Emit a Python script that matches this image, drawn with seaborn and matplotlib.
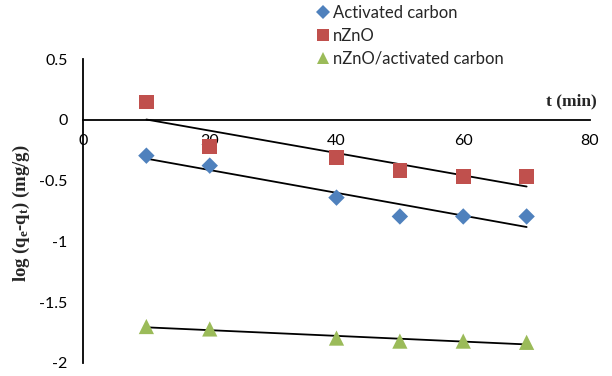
import matplotlib
matplotlib.use("Agg")
import matplotlib.pyplot as plt
import seaborn as sns
import pandas as pd
from matplotlib.lines import Line2D

time_min = [10, 20, 40, 50, 60, 70]
activated_carbon = [-0.295, -0.377, -0.64, -0.795, -0.795, -0.795]
nzno = [0.148, -0.22, -0.31, -0.415, -0.467, -0.467]
nzno_ac = [-1.70, -1.72, -1.795, -1.82, -1.82, -1.83]
series_names = ["Activated carbon", "nZnO", "nZnO/activated carbon"]
x_ticks = [0, 20, 40, 60, 80]
y_ticks = [0.5, 0, -0.5, -1, -1.5, -2]
y_tick_labels = ["0.5", "0", "-0.5", "-1", "-1.5", "-2"]

sns.set_theme(style="white")
plt.rcParams["font.family"] = ["Lato", "DejaVu Sans"]
plt.rcParams["mathtext.fontset"] = "custom"
plt.rcParams["mathtext.rm"] = "Liberation Serif:bold"
plt.rcParams["mathtext.it"] = "Liberation Serif:bold"
plt.rcParams["mathtext.bf"] = "Liberation Serif:bold"
plt.rcParams["mathtext.default"] = "rm"

df = pd.concat([
    pd.DataFrame({"t": time_min, "y": vals, "series": name})
    for name, vals in zip(series_names, [activated_carbon, nzno, nzno_ac])
])

colors = {"Activated carbon": "#4F81BD", "nZnO": "#C0504D",
          "nZnO/activated carbon": "#9BBB59"}
markers = {"Activated carbon": "D", "nZnO": "s", "nZnO/activated carbon": "^"}
sizes = {"Activated carbon": 70, "nZnO": 110, "nZnO/activated carbon": 120}

fig = plt.figure(figsize=(6.12, 3.76), dpi=100)
ax = fig.add_axes([83 / 612, 1 - 363 / 376, (590 - 83) / 612, (363 - 59) / 376])

for name in series_names:
    sub = df[df["series"] == name]
    sns.regplot(data=sub, x="t", y="y", ax=ax, scatter=False, ci=None,
                line_kws={"color": "black", "lw": 1.3, "zorder": 2})
for name in series_names:
    sub = df[df["series"] == name]
    sns.scatterplot(data=sub, x="t", y="y", ax=ax, color=colors[name],
                    marker=markers[name], s=sizes[name], edgecolor="none",
                    zorder=3, legend=False)

ax.set_xlim(0, 80)
ax.set_ylim(-2, 0.5)
ax.set_xticks(x_ticks)
ax.set_yticks(y_ticks)
ax.set_xticklabels([str(v) for v in x_ticks])
ax.set_yticklabels(y_tick_labels)

for s in ["top", "right"]:
    ax.spines[s].set_visible(False)
ax.spines["bottom"].set_position(("data", 0))
for s in ["left", "bottom"]:
    ax.spines[s].set_linewidth(1.3)
    ax.spines[s].set_color("black")
ax.tick_params(axis="both", direction="out", length=4, width=1, color="black",
               labelsize=11.5, labelcolor="black")
ax.tick_params(axis="x", pad=6)
ax.tick_params(axis="y", pad=7)
ax.set_xlabel("")
ax.set_ylabel("")

fig.text(21 / 612, 1 - 213 / 376, r"log (q$_{e}$-q$_{t}$) (mg/g)", rotation=90,
         ha="center", va="center", fontsize=13.5, fontweight="bold",
         family="Liberation Serif")
fig.text(597 / 612, 1 - 101 / 376, "t (min)", ha="right", va="center",
         fontsize=12.5, fontweight="bold", family="Liberation Serif")

leg_handles = [Line2D([], [], ls="none", marker=markers[n], color=colors[n],
                      markersize={"Activated carbon": 7, "nZnO": 9,
                                  "nZnO/activated carbon": 9}[n],
                      markeredgewidth=0) for n in series_names]
fig.legend(leg_handles, series_names, loc="upper left",
           bbox_to_anchor=(318 / 612, 1 - 5 / 376), frameon=False,
           fontsize=12, handlelength=0.6, handletextpad=0.3,
           labelspacing=0.42, borderpad=0.0, borderaxespad=0.0)

fig.savefig("out.png", dpi=100)
